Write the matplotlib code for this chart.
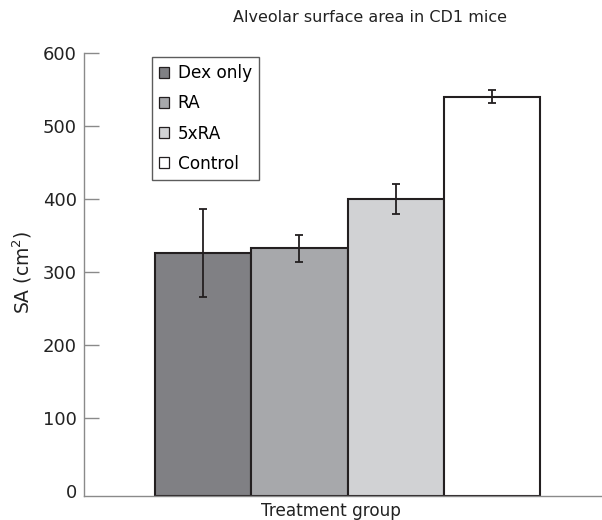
import numpy as np
import matplotlib
matplotlib.use("Agg")
import matplotlib.pyplot as plt

groups = ["Dex only", "RA", "5xRA", "Control"]
sa_mean = [326, 332, 400, 540]
sa_err = [60, 18, 21, 9]
fills = ["#808084", "#a7a8ab", "#d1d2d4", "#ffffff"]
yticks = [0, 100, 200, 300, 400, 500, 600]

ink = "#231f20"
axis_grey = "#8a8a8a"

plt.rcParams["font.family"] = ["DejaVu Sans"]

W, H = 602, 520
fig = plt.figure(figsize=(W / 100, H / 100), dpi=100)
# axes box in pixel terms: left 84, right 602, bottom 496, top 53
ax = fig.add_axes([84 / W, 1 - 496 / H, (601 - 84) / W, (496 - 53) / H])

ymin = -7.4
x = np.arange(len(groups))
bars = []
for i in range(len(groups)):
    b = ax.bar(x[i], sa_mean[i] - ymin, bottom=ymin, width=1.0,
               color=fills[i], edgecolor=ink, linewidth=1.5,
               label=groups[i], zorder=2)
    bars.append(b)
ax.errorbar(x, sa_mean, yerr=sa_err, fmt="none", ecolor=ink,
            elinewidth=1.3, capsize=3, capthick=1.3, zorder=3)

ax.set_xlim(-1.236, 4.13)
ax.set_ylim(ymin, 600)
ax.set_xticks([])
ax.set_yticks(yticks)
ax.tick_params(axis="y", direction="in", length=11, width=1,
               color=axis_grey, pad=5, labelsize=13, labelcolor="#222222")
# no tick mark at zero, only the label
ax.yaxis.get_major_ticks()[0].tick1line.set_visible(False)

for s in ["top", "right"]:
    ax.spines[s].set_visible(False)
for s in ["left", "bottom"]:
    ax.spines[s].set_color(axis_grey)
    ax.spines[s].set_linewidth(1)
ax.spines["left"].set_bounds(ymin, 600)

leg = ax.legend(loc="upper left", bbox_to_anchor=(152 / W, 1 - 57 / H),
                bbox_transform=fig.transFigure, fontsize=12.2,
                frameon=True, fancybox=False, edgecolor="#333333",
                handlelength=0.6, handleheight=0.6, handletextpad=0.5,
                labelspacing=0.72, borderpad=0.42, borderaxespad=0)
leg.get_frame().set_linewidth(1)
for h in leg.legend_handles:
    h.set_linewidth(0.9)

fig.text(370 / W, 1 - 18 / H, "Alveolar surface area in CD1 mice",
         ha="center", va="center", fontsize=11.5, color="#222222")
fig.text(331 / W, 1 - 511 / H, "Treatment group",
         ha="center", va="center", fontsize=12.2, color="#222222")
fig.text(22 / W, 1 - 272 / H, "SA (cm$^2$)", rotation=90,
         ha="center", va="center", fontsize=13.5, color="#222222")

fig.savefig("out.png", dpi=100)
